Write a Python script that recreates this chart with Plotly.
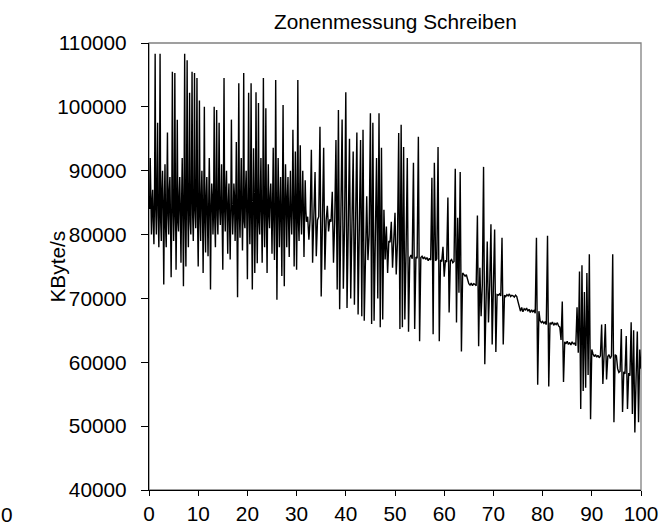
import plotly.graph_objects as go

# Dense, noisy first zone: x = 0 .. 32, one value every 0.125 (8 per row)
noisy_step = 0.125
noisy_kbyte_s = [
    86000, 84000, 92000, 83000, 80000, 85000, 87000, 82000,
    78500, 86000, 108300, 84000, 80000, 88000, 97500, 83000,
    78000, 85000, 108300, 82000, 79000, 87000, 90000, 84000,
    72200, 85000, 91000, 81000, 78000, 86000, 96000, 83000,
    80000, 87000, 89000, 82000, 73300, 84000, 105500, 85000,
    79000, 83000, 105300, 86000, 74500, 84000, 98000, 82000,
    80500, 86000, 89000, 83000, 75600, 85000, 92000, 84000,
    71900, 86000, 108300, 83000, 75000, 87000, 107300, 84000,
    78000, 86000, 102200, 82000, 80000, 88000, 105500, 83000,
    79000, 85000, 105300, 84000, 81000, 87000, 104500, 82000,
    75000, 85000, 101000, 83000, 79000, 86000, 90000, 84000,
    74000, 85000, 100000, 82000, 77200, 86000, 89000, 83000,
    76600, 84000, 92000, 85000, 71400, 83000, 88000, 86000,
    80000, 84000, 100000, 82000, 78000, 87000, 99500, 83000,
    80000, 86000, 97500, 84000, 81500, 85000, 91000, 82000,
    74500, 86000, 104500, 84000, 80500, 87000, 90000, 83000,
    77000, 85000, 88000, 82000, 76100, 84000, 98000, 85000,
    80000, 83000, 88000, 86000, 79000, 84000, 94500, 82000,
    70200, 85000, 103700, 83000, 79500, 86000, 92000, 84000,
    77500, 85000, 105300, 82000, 81000, 87000, 90000, 83000,
    73000, 86000, 102200, 84000, 78500, 85000, 103700, 82000,
    71400, 84000, 93500, 86000, 74000, 83000, 102300, 85000,
    75500, 84000, 100600, 82000, 80000, 86000, 92000, 83000,
    75600, 85000, 104500, 84000, 78000, 86000, 99800, 82000,
    74000, 85000, 91000, 83000, 81000, 86000, 88000, 84000,
    77000, 85000, 93600, 82000, 76000, 84000, 104200, 86000,
    69800, 83000, 92000, 85000, 78000, 84000, 89000, 82000,
    73500, 86000, 100300, 83000, 71900, 85000, 91000, 84000,
    78000, 86000, 89000, 82000, 76500, 85000, 90000, 83000,
    80000, 84000, 96400, 86000, 75000, 83000, 93000, 85000,
    74500, 84000, 104200, 82000, 79000, 86000, 94000, 83000,
    80000, 85000, 90000, 84000, 76500, 83000, 88500, 84000,
    82000,
]

# Remaining zones: x = 32.25 .. 100, one value every 0.25
rest_start = 32.25
rest_step = 0.25
rest_kbyte_s = [
    82800, 79200, 82500, 93300, 75600, 82600, 89800, 76600, 82300, 82800,
    96900, 70300, 82500, 93600, 74500, 82200, 84500, 80500, 82400, 82000,
    86700, 75600, 82100, 94800, 71400, 99500, 68300, 82000, 98000, 71500,
    81500, 102300, 68500, 81200, 95000, 70000, 81300, 93000, 69000, 81000,
    96000, 67500, 81200, 94800, 67200, 96400, 66500, 80500, 86000, 76000,
    80000, 99000, 66000, 97500, 66500, 79500, 92000, 70000, 99000, 65500,
    93600, 66700, 83900, 76100, 81250, 74000, 79000, 78800, 82000, 74800,
    79000, 83400, 73750, 78800, 95900, 65200, 97200, 65500, 93700, 66700,
    77500, 92000, 64800, 76400, 76800, 76200, 91250, 65200, 76500, 76300,
    95300, 63300, 76400, 76600, 76200, 76500, 76100, 76400, 75900, 76300,
    76000, 88900, 64400, 91250, 75900, 76200, 93700, 63300, 76000, 75800,
    78100, 73400, 76000, 75700, 85800, 67800, 75900, 76100, 75600, 75800,
    90300, 66250, 82650, 70900, 89800, 61700, 74000, 73800, 73500, 73700,
    72800, 72300, 72100, 72400, 72000, 72300, 72200, 72000, 83000, 62500,
    74800, 67200, 72200, 90600, 59700, 72300, 78900, 66250, 72100, 81600,
    62800, 72000, 80800, 61600, 70600, 70500, 70700, 70400, 79500, 62800,
    70500, 70300, 70600, 70400, 70700, 70300, 70500, 70400, 70200, 70500,
    70300, 69500, 68500, 68000, 68600, 67900, 68400, 68200, 68500, 68000,
    68300, 67800, 68200, 67900, 68100, 67700, 79500, 56500, 68000, 66500,
    66200, 66400, 66100, 66300, 65900, 79800, 56200, 66200, 66000, 66300,
    65800, 66100, 65900, 66200, 65700, 65500, 63500, 69500, 56900, 63200,
    62900, 63300, 62800, 63100, 62700, 63200, 62900, 63000, 62600, 68600,
    61500, 74200, 52700, 75200, 55500, 71000, 56000, 74000, 58000, 76900,
    51100, 62000, 61300, 60900, 61200, 60800, 61100, 60700, 61000, 65900,
    56600, 61000, 66000, 57300, 60900, 61200, 60600, 61000, 76900, 50600,
    61200, 61000, 59000, 58400, 58600, 65200, 52200, 58500, 58200, 64100,
    52700, 58300, 57900, 66250, 51900, 65000, 49000, 57500, 64800, 50600,
    62000, 59000,
]

x_vals = ([i * noisy_step for i in range(len(noisy_kbyte_s))]
          + [rest_start + i * rest_step for i in range(len(rest_kbyte_s))])
y_vals = noisy_kbyte_s + rest_kbyte_s

x_ticks = [0, 10, 20, 30, 40, 50, 60, 70, 80, 90, 100]
y_ticks = [40000, 50000, 60000, 70000, 80000, 90000, 100000, 110000]

title_text = "Zonenmessung Schreiben"
y_title = "KByte/s"

FONT = "Liberation Sans, Arial, sans-serif"
FS = 20.8

fig = go.Figure()
fig.add_trace(go.Scatter(
    x=x_vals, y=y_vals, mode="lines",
    line=dict(color="black", width=1.4),
    hoverinfo="skip", showlegend=False,
))

fig.add_shape(type="rect", xref="paper", yref="paper", x0=0, y0=0, x1=1, y1=1,
              line=dict(color="#808080", width=1.3), layer="below")

fig.update_layout(
    width=669, height=524,
    margin=dict(l=149, r=28, t=43, b=34, autoexpand=False),
    paper_bgcolor="white", plot_bgcolor="white",
    font=dict(family=FONT, size=FS, color="black"),
    showlegend=False,
    annotations=[
        dict(text=title_text, xref="paper", yref="paper", x=0.5, y=1 + 21 / 447,
             xanchor="center", yanchor="middle", showarrow=False,
             font=dict(family=FONT, size=FS, color="black")),
        dict(text=y_title, xref="paper", yref="paper", x=-92 / 492, y=0.5,
             xanchor="center", yanchor="middle", textangle=-90, showarrow=False,
             font=dict(family=FONT, size=FS, color="black")),
        dict(text="0", xref="paper", yref="paper", x=-149 / 492, y=-24 / 447,
             xanchor="left", yanchor="middle", showarrow=False, borderpad=0,
             font=dict(family=FONT, size=FS, color="black")),
    ],
)

fig.update_xaxes(
    range=[0, 100], tickmode="array", tickvals=x_ticks,
    ticks="outside", ticklen=5, tickwidth=1, tickcolor="black",
    showline=True, linecolor="black", linewidth=1.3,
    showgrid=False, zeroline=False, ticklabelstandoff=0, automargin=False,
    tickfont=dict(family=FONT, size=FS, color="black"),
)
fig.update_yaxes(
    range=[40000, 110000], tickmode="array", tickvals=y_ticks,
    ticktext=[str(v) for v in y_ticks],
    ticks="outside", ticklen=7, tickwidth=1, tickcolor="black",
    showline=True, linecolor="black", linewidth=1.3,
    showgrid=False, zeroline=False, ticklabelstandoff=10, automargin=False,
    tickfont=dict(family=FONT, size=FS, color="black"),
)

# remove the page's default body margin so the figure fills the window exactly
fig.write_html(
    "out.html",
    config={"displayModeBar": False},
    post_script="document.body.style.margin='0';document.body.style.overflow='hidden';",
)
